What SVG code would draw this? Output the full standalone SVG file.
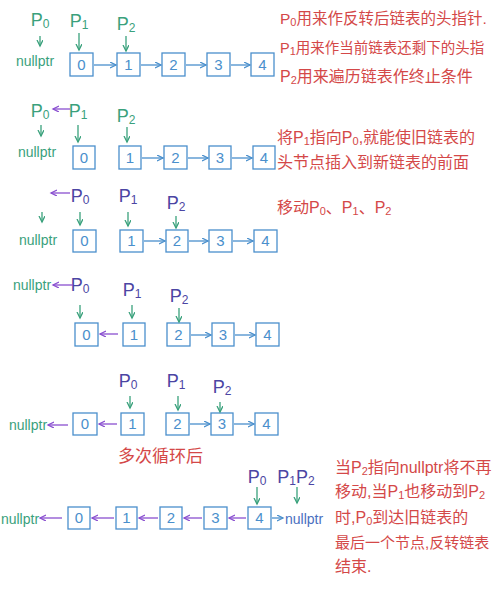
<svg xmlns="http://www.w3.org/2000/svg" width="500" height="596" viewBox="0 0 500 596">
<style>
text{font-family:"Liberation Sans","Noto Sans CJK SC",sans-serif}
.box{fill:none;stroke:#4a8fcc;stroke-width:1.3}
.num{font-size:15px;fill:#4a8fcc;text-anchor:middle}
.gt{font-size:14px;fill:#3aa17c;text-anchor:middle}
.bt{font-size:14px;fill:#4a6fc0}
.pg{font-size:18px;fill:#3aa17c;text-anchor:middle}
.pi{font-size:18px;fill:#4b45a3;text-anchor:middle}
.red{font-size:16px;fill:#d44848}
.sub{font-size:11px}
.cg{stroke:#3aa17c;stroke-width:1.3;fill:none;marker-end:url(#ag)}
.cp{stroke:#8a4fd0;stroke-width:1.3;fill:none;marker-end:url(#ap)}
.cb{stroke:#4a8fcc;stroke-width:1.3;fill:none;marker-end:url(#ab)}
</style>
<defs>
<marker id="ag" markerWidth="8" markerHeight="8" refX="6" refY="3" orient="auto" markerUnits="userSpaceOnUse"><path d="M0,0 L6,3 L0,6" fill="none" stroke="#3aa17c" stroke-width="1.3"/></marker>
<marker id="ap" markerWidth="8" markerHeight="8" refX="6" refY="3" orient="auto" markerUnits="userSpaceOnUse"><path d="M0,0 L6,3 L0,6" fill="none" stroke="#8a4fd0" stroke-width="1.3"/></marker>
<marker id="ab" markerWidth="8" markerHeight="8" refX="6" refY="3" orient="auto" markerUnits="userSpaceOnUse"><path d="M0,0 L6,3 L0,6" fill="none" stroke="#4a8fcc" stroke-width="1.3"/></marker>
</defs>

<!-- Row 1 -->
<g id="r1-p0"><text class="pg" x="40" y="26">P<tspan font-size="12" dy="2">0</tspan></text></g>
<g id="r1-p1"><text class="pg" x="79" y="27">P<tspan font-size="12" dy="2">1</tspan></text></g>
<g id="r1-p2"><text class="pg" x="126" y="30">P<tspan font-size="12" dy="2">2</tspan></text></g>
<g id="r1-null"><text class="gt" x="35" y="66">nullptr</text></g>
<g id="r1-n0"><rect class="box" x="70" y="53" width="23" height="23"/><text class="num" x="81.5" y="70">0</text></g>
<g id="r1-n1"><rect class="box" x="117" y="53" width="23" height="23"/><text class="num" x="128.5" y="70">1</text></g>
<g id="r1-n2"><rect class="box" x="162" y="53" width="23" height="23"/><text class="num" x="173.5" y="70">2</text></g>
<g id="r1-n3"><rect class="box" x="207" y="53" width="23" height="23"/><text class="num" x="218.5" y="70">3</text></g>
<g id="r1-n4"><rect class="box" x="251" y="53" width="23" height="23"/><text class="num" x="262.5" y="70">4</text></g>

<!-- Row 2 -->
<g id="r2-p0"><text class="pg" x="40" y="117">P<tspan font-size="12" dy="2">0</tspan></text></g>
<g id="r2-p1"><text class="pg" x="78" y="117">P<tspan font-size="12" dy="2">1</tspan></text></g>
<g id="r2-p2"><text class="pg" x="126" y="122">P<tspan font-size="12" dy="2">2</tspan></text></g>
<g id="r2-null"><text class="gt" x="37" y="157">nullptr</text></g>
<g id="r2-n0"><rect class="box" x="73" y="146" width="22" height="23"/><text class="num" x="84" y="163">0</text></g>
<g id="r2-n1"><rect class="box" x="119" y="146" width="22" height="23"/><text class="num" x="130" y="163">1</text></g>
<g id="r2-n2"><rect class="box" x="164" y="146" width="23" height="23"/><text class="num" x="175.5" y="163">2</text></g>
<g id="r2-n3"><rect class="box" x="209" y="146" width="22" height="23"/><text class="num" x="220" y="163">3</text></g>
<g id="r2-n4"><rect class="box" x="253" y="146" width="22" height="23"/><text class="num" x="264" y="163">4</text></g>

<!-- Row 3 -->
<g id="r3-p0"><text class="pi" x="80" y="202">P<tspan font-size="12" dy="2">0</tspan></text></g>
<g id="r3-p1"><text class="pi" x="128" y="202">P<tspan font-size="12" dy="2">1</tspan></text></g>
<g id="r3-p2"><text class="pi" x="176" y="209">P<tspan font-size="12" dy="2">2</tspan></text></g>
<g id="r3-null"><text class="gt" x="38" y="245">nullptr</text></g>
<g id="r3-n0"><rect class="box" x="73" y="230" width="23" height="22"/><text class="num" x="84.5" y="246">0</text></g>
<g id="r3-n1"><rect class="box" x="120" y="230" width="23" height="22"/><text class="num" x="131.5" y="246">1</text></g>
<g id="r3-n2"><rect class="box" x="166" y="230" width="22" height="22"/><text class="num" x="177" y="246">2</text></g>
<g id="r3-n3"><rect class="box" x="209" y="230" width="23" height="22"/><text class="num" x="220.5" y="246">3</text></g>
<g id="r3-n4"><rect class="box" x="254" y="230" width="23" height="22"/><text class="num" x="265.5" y="246">4</text></g>

<!-- Row 4 -->
<g id="r4-null"><text class="gt" x="32" y="290">nullptr</text></g>
<g id="r4-p0"><text class="pi" x="80" y="291">P<tspan font-size="12" dy="2">0</tspan></text></g>
<g id="r4-p1"><text class="pi" x="132" y="296">P<tspan font-size="12" dy="2">1</tspan></text></g>
<g id="r4-p2"><text class="pi" x="179" y="302">P<tspan font-size="12" dy="2">2</tspan></text></g>
<g id="r4-n0"><rect class="box" x="75" y="323" width="23" height="23"/><text class="num" x="86.5" y="340">0</text></g>
<g id="r4-n1"><rect class="box" x="123" y="323" width="22" height="23"/><text class="num" x="134" y="340">1</text></g>
<g id="r4-n2"><rect class="box" x="167" y="323" width="23" height="23"/><text class="num" x="178.5" y="340">2</text></g>
<g id="r4-n3"><rect class="box" x="212" y="323" width="22" height="23"/><text class="num" x="223" y="340">3</text></g>
<g id="r4-n4"><rect class="box" x="256" y="323" width="23" height="23"/><text class="num" x="267.5" y="340">4</text></g>

<!-- Row 5 -->
<g id="r5-p0"><text class="pi" x="128" y="387">P<tspan font-size="12" dy="2">0</tspan></text></g>
<g id="r5-p1"><text class="pi" x="176" y="387">P<tspan font-size="12" dy="2">1</tspan></text></g>
<g id="r5-p2"><text class="pi" x="222" y="393">P<tspan font-size="12" dy="2">2</tspan></text></g>
<g id="r5-null"><text class="gt" x="28" y="430">nullptr</text></g>
<g id="r5-n0"><rect class="box" x="73" y="413" width="24" height="22"/><text class="num" x="85" y="429">0</text></g>
<g id="r5-n1"><rect class="box" x="121" y="413" width="23" height="22"/><text class="num" x="132.5" y="429">1</text></g>
<g id="r5-n2"><rect class="box" x="166" y="413" width="23" height="22"/><text class="num" x="177.5" y="429">2</text></g>
<g id="r5-n3"><rect class="box" x="211" y="413" width="22" height="22"/><text class="num" x="222" y="429">3</text></g>
<g id="r5-n4"><rect class="box" x="255" y="413" width="23" height="22"/><text class="num" x="266.5" y="429">4</text></g>
<g id="r5-label"><text class="red" x="118" y="462" style="font-size:17px">多次循环后</text></g>

<!-- Row 6 -->
<g id="r6-p0"><text class="pi" x="257" y="483">P<tspan font-size="12" dy="2">0</tspan></text></g>
<g id="r6-p12"><text class="pi" x="296" y="483">P<tspan font-size="12" dy="2">1</tspan><tspan dy="-2">P</tspan><tspan font-size="12" dy="2">2</tspan></text></g>
<g id="r6-null-l"><text class="gt" x="20" y="524">nullptr</text></g>
<g id="r6-n0"><rect class="box" x="68" y="507" width="22" height="22"/><text class="num" x="79" y="523">0</text></g>
<g id="r6-n1"><rect class="box" x="116" y="507" width="21" height="22"/><text class="num" x="126.5" y="523">1</text></g>
<g id="r6-n2"><rect class="box" x="160" y="507" width="22" height="22"/><text class="num" x="171" y="523">2</text></g>
<g id="r6-n3"><rect class="box" x="204" y="507" width="23" height="22"/><text class="num" x="215.5" y="523">3</text></g>
<g id="r6-n4"><rect class="box" x="248" y="507" width="23" height="22"/><text class="num" x="259.5" y="523">4</text></g>
<g id="r6-null-r"><text class="bt" x="285" y="524">nullptr</text></g>

<!-- Notes -->
<g id="note1">
<text class="red" x="280" y="24" style="font-size:15.5px">P<tspan class="sub" dy="2">0</tspan><tspan dy="-2">用来作反转后链表的头指针.</tspan></text>
<text class="red" x="280" y="53" style="font-size:14.5px">P<tspan class="sub" dy="2">1</tspan><tspan dy="-2">用来作当前链表还剩下的头指</tspan></text>
<text class="red" x="280" y="82">P<tspan class="sub" dy="2">2</tspan><tspan dy="-2">用来遍历链表作终止条件</tspan></text>
</g>
<g id="note2">
<text class="red" x="277" y="143">将P<tspan class="sub" dy="2">1</tspan><tspan dy="-2">指向P</tspan><tspan class="sub" dy="2">0</tspan><tspan dy="-2">,就能使旧链表的</tspan></text>
<text class="red" x="277" y="168">头节点插入到新链表的前面</text>
</g>
<g id="note3"><text class="red" x="277" y="213">移动P<tspan class="sub" dy="2">0</tspan><tspan dy="-2">、P</tspan><tspan class="sub" dy="2">1</tspan><tspan dy="-2">、P</tspan><tspan class="sub" dy="2">2</tspan></text></g>
<g id="note4">
<text class="red" x="335" y="473">当P<tspan class="sub" dy="2">2</tspan><tspan dy="-2">指向nullptr将不再</tspan></text>
<text class="red" x="335" y="497">移动,当P<tspan class="sub" dy="2">1</tspan><tspan dy="-2">也移动到P</tspan><tspan class="sub" dy="2">2</tspan></text>
<text class="red" x="335" y="523">时,P<tspan class="sub" dy="2">0</tspan><tspan dy="-2">到达旧链表的</tspan></text>
<text class="red" x="335" y="548" style="font-size:15px">最后一个节点,反转链表</text>
<text class="red" x="335" y="572">结束.</text>
</g>

<g id="connectors">
<!-- row 1 -->
<line class="cg" x1="40" y1="36" x2="40" y2="46"/>
<line class="cg" x1="79" y1="33" x2="79" y2="50"/>
<line class="cg" x1="126" y1="36" x2="126" y2="51"/>
<line class="cb" x1="94" y1="65" x2="116" y2="65"/>
<line class="cb" x1="141" y1="65" x2="161" y2="65"/>
<line class="cb" x1="186" y1="65" x2="206" y2="65"/>
<line class="cb" x1="231" y1="65" x2="250" y2="65"/>
<!-- row 2 -->
<line class="cp" x1="70" y1="109" x2="53" y2="109"/>
<line class="cg" x1="41" y1="125" x2="41" y2="136"/>
<line class="cg" x1="78" y1="125" x2="78" y2="142"/>
<line class="cg" x1="127" y1="127" x2="127" y2="142"/>
<line class="cb" x1="142" y1="158" x2="163" y2="158"/>
<line class="cb" x1="188" y1="158" x2="208" y2="158"/>
<line class="cb" x1="232" y1="158" x2="252" y2="158"/>
<!-- row 3 -->
<line class="cp" x1="70" y1="193" x2="51" y2="193"/>
<line class="cg" x1="42" y1="212" x2="42" y2="222"/>
<line class="cg" x1="80" y1="212" x2="80" y2="225"/>
<line class="cg" x1="128" y1="212" x2="128" y2="226"/>
<line class="cg" x1="176" y1="216" x2="176" y2="228"/>
<line class="cb" x1="144" y1="241" x2="165" y2="241"/>
<line class="cb" x1="189" y1="241" x2="208" y2="241"/>
<line class="cb" x1="233" y1="241" x2="253" y2="241"/>
<!-- row 4 -->
<line class="cp" x1="73" y1="285" x2="53" y2="285"/>
<line class="cg" x1="80" y1="305" x2="80" y2="318"/>
<line class="cg" x1="132" y1="305" x2="132" y2="318"/>
<line class="cg" x1="179" y1="308" x2="179" y2="322"/>
<line class="cp" x1="118" y1="334" x2="100" y2="334"/>
<line class="cb" x1="191" y1="335" x2="211" y2="335"/>
<line class="cb" x1="235" y1="335" x2="255" y2="335"/>
<!-- row 5 -->
<line class="cg" x1="130" y1="396" x2="130" y2="408"/>
<line class="cg" x1="178" y1="396" x2="178" y2="410"/>
<line class="cg" x1="220" y1="402" x2="220" y2="412"/>
<line class="cp" x1="68" y1="425" x2="48" y2="425"/>
<line class="cp" x1="117" y1="424" x2="99" y2="424"/>
<line class="cb" x1="190" y1="424" x2="210" y2="424"/>
<line class="cb" x1="234" y1="424" x2="254" y2="424"/>
<!-- row 6 -->
<line class="cg" x1="257" y1="487" x2="257" y2="504"/>
<line class="cg" x1="297" y1="487" x2="297" y2="503"/>
<line class="cp" x1="62" y1="518" x2="40" y2="518"/>
<line class="cp" x1="114" y1="518" x2="92" y2="518"/>
<line class="cp" x1="158" y1="518" x2="139" y2="518"/>
<line class="cp" x1="202" y1="518" x2="184" y2="518"/>
<line class="cp" x1="246" y1="518" x2="229" y2="518"/>
<line class="cb" x1="272" y1="518" x2="283" y2="518"/>
</g>
</svg>
